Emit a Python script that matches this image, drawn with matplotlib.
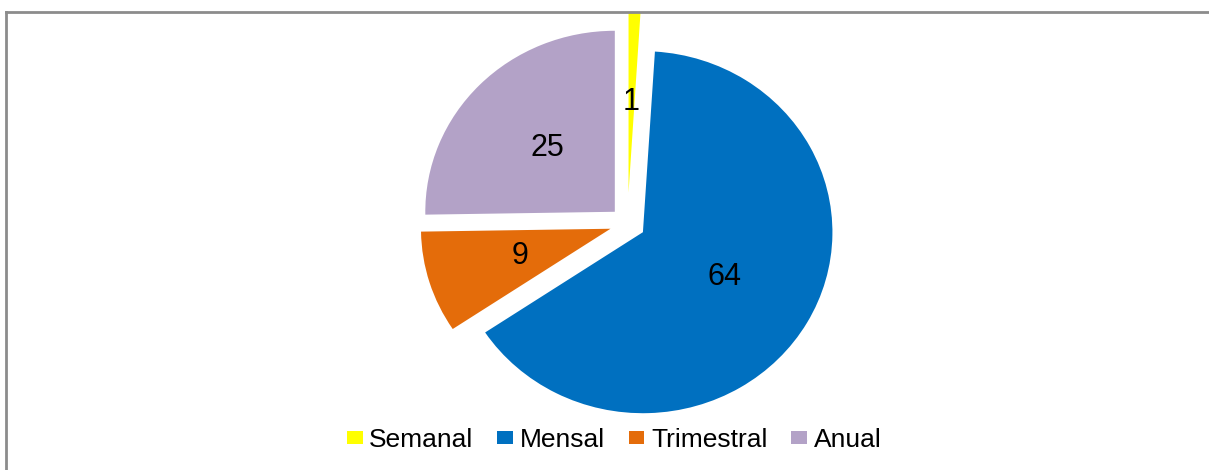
import numpy as np
import matplotlib
matplotlib.use('Agg')
import matplotlib.pyplot as plt
from matplotlib.lines import Line2D

categories = ["Semanal", "Mensal", "Trimestral", "Anual"]
values = [1, 64, 9, 25]
colors = ["#FFFF00", "#0070C0", "#E46C0A", "#B3A2C7"]
explode = [31, 17, 17, 17]  # pie() takes these in data units

plt.rcParams['font.family'] = ['Liberation Sans', 'DejaVu Sans']

W, H = 1209, 470
SX = 1.047  # picture is slightly stretched horizontally

fig = plt.figure(figsize=(W / 100, H / 100), dpi=100)
ax = fig.add_axes([0, 0, 1, 1])

total = sum(values)
wedges, texts, autotexts = ax.pie(
    values, colors=colors, explode=explode, startangle=90, counterclock=False,
    radius=181, center=(627.5 / SX, H - 223.7), frame=True,
    autopct=lambda p: f"{p * total / 100:.0f}", pctdistance=0.5,
    wedgeprops=dict(linewidth=0),
    textprops=dict(fontsize=22, color='black'))

ax.set_aspect('auto')
ax.set_xlim(0, W / SX)
ax.set_ylim(0, H)
ax.axis('off')

# grey chart border
bc = '#8C8C8C'
fig.add_artist(Line2D([6 / W, 1.01], [1 - 12 / H, 1 - 12 / H], color=bc, lw=2, transform=fig.transFigure))
fig.add_artist(Line2D([6 / W, 6 / W], [1 - 12 / H, -0.01], color=bc, lw=2, transform=fig.transFigure))

fig.legend(wedges, categories, loc='center', bbox_to_anchor=(614 / W, 1 - 440 / H),
           ncol=4, frameon=False, fontsize=19, handlelength=0.6, handleheight=0.4,
           handletextpad=0.25, columnspacing=0.9, borderpad=0)

fig.savefig('out.png', dpi=100)
